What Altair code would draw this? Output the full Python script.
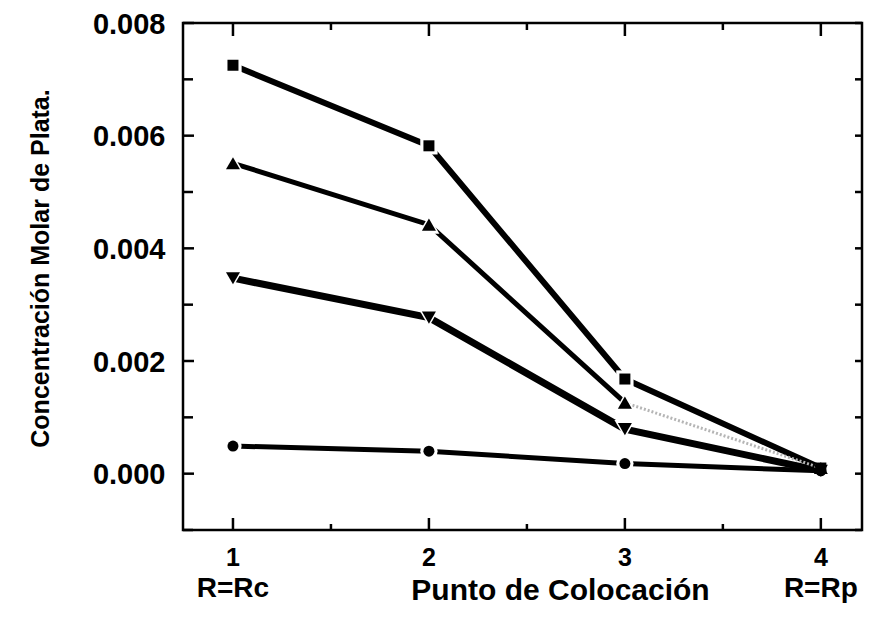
import altair as alt
import pandas as pd

# --- data ---
puntos = [1, 2, 3, 4]
serie_cuadrado = [0.00725, 0.00582, 0.00168, 0.00010]
serie_triangulo = [0.00551, 0.00442, 0.00126, 0.00010]
serie_triang_inv = [0.00347, 0.00277, 0.00079, 0.00005]
serie_circulo = [0.00049, 0.00040, 0.00018, 0.00005]

series_names = ["cuadrado", "triangulo", "triang_inv", "circulo"]
series_shapes = ["square", "triangle-up", "triangle-down", "circle"]
series_sizes = [121, 196, 196, 121]
halo_sizes = [300, 440, 440, 300]
series_widths = [6, 5, 7, 5]

x_ticks_major = [1, 2, 3, 4]
x_tick_labels = ["1", "2", "3", "4"]
x_ticks_minor = [1.5, 2.5, 3.5]
y_ticks_major = [0.000, 0.002, 0.004, 0.006, 0.008]
y_ticks_minor = [-0.001, 0.001, 0.003, 0.005, 0.007]
extremos = [1, 4]
extremos_txt = ["R=Rc", "R=Rp"]

x_title = "Punto de Colocación"
y_title = "Concentración Molar de Plata."

W, H = 679, 507
TOP = 15
FONT = "Liberation Sans"

rows = []
for name, shp, sz, hs, lw, vals in zip(series_names, series_shapes, series_sizes, halo_sizes, series_widths,
                                       [serie_cuadrado, serie_triangulo, serie_triang_inv, serie_circulo]):
    for x, y in zip(puntos, vals):
        rows.append({"serie": name, "x": x, "y": y, "shape": shp, "size": sz, "halo": hs, "lw": lw})
df = pd.DataFrame(rows)

df_black = df[~((df.serie == "triangulo") & (df.x == 4))]
df_gray = df[(df.serie == "triangulo") & (df.x >= 3)]

xs = alt.Scale(domain=[0.745, 4.21], nice=False, zero=False)
ys = alt.Scale(domain=[-0.001, 0.008], nice=False, zero=False)

x_axis = alt.Axis(values=x_ticks_major, domain=False, ticks=False, grid=False, labels=False,
                  title=x_title, titleFont=FONT, titleFontWeight="bold", titleFontSize=30,
                  titleColor="black", titleX=377, titleY=69, titleBaseline="alphabetic",
                  titleAlign="center")
y_axis = alt.Axis(values=y_ticks_major, format=".3f", domain=False, ticks=False, grid=False,
                  labelFont=FONT, labelFontWeight="bold", labelFontSize=29, labelColor="black",
                  labelPadding=18, labelBaseline="middle", labelOffset=1,
                  title=y_title, titleFont=FONT, titleFontWeight="bold", titleFontSize=25,
                  titleColor="black", titleX=-135, titleY=245, titleBaseline="alphabetic",
                  titleAngle=-90, titleAlign="center")

X = alt.X("x:Q", scale=xs, axis=x_axis, title=x_title)
Y = alt.Y("y:Q", scale=ys, axis=y_axis, title=y_title)

lines = alt.Chart(df_black).mark_line(color="black", strokeCap="butt").encode(
    x=X, y=Y,
    detail="serie:N",
    strokeWidth=alt.StrokeWidth("lw:Q", scale=None),
)

gray = alt.Chart(df_gray).mark_line(color="#b5b5b5", strokeWidth=3, strokeDash=[2, 2]).encode(
    x=X, y=Y,
)

halo = alt.Chart(df[df.x < 4]).mark_point(filled=True, color="white", opacity=1).encode(
    x=X, y=Y,
    shape=alt.Shape("shape:N", scale=None),
    size=alt.Size("halo:Q", scale=None),
)

pts = alt.Chart(df).mark_point(filled=True, color="black", opacity=1).encode(
    x=X, y=Y,
    shape=alt.Shape("shape:N", scale=None),
    size=alt.Size("size:Q", scale=None),
)

xmaj = pd.DataFrame({"x": x_ticks_major, "t": x_tick_labels})
xmin = pd.DataFrame({"x": x_ticks_minor})
ymaj = pd.DataFrame({"y": y_ticks_major})
ymin = pd.DataFrame({"y": y_ticks_minor})


def xrule(d, y0, y1):
    return alt.Chart(d).mark_rule(color="black", strokeWidth=2.5).encode(
        x=X, y=alt.value(y0), y2=alt.value(y1))


def yrule(d, x0, x1):
    return alt.Chart(d).mark_rule(color="black", strokeWidth=2.5).encode(
        y=Y, x=alt.value(x0), x2=alt.value(x1))


ticks = [
    xrule(xmaj, H, H - 12), xrule(xmin, H, H - 6),
    xrule(xmaj, 0, 13), xrule(xmin, 0, 7),
    yrule(ymaj, 0, 11), yrule(ymin, 0, 10),
    yrule(ymaj, W, W - 7), yrule(ymin, W, W - 7),
]

xlabels = alt.Chart(xmaj).mark_text(
    font=FONT, fontWeight="bold", fontSize=25, color="black", baseline="alphabetic", align="center"
).encode(x=X, y=alt.value(H + 36), text="t:N")

ext = alt.Chart(pd.DataFrame({"x": extremos, "t": extremos_txt})).mark_text(
    font=FONT, fontWeight="bold", fontSize=28, color="black", baseline="alphabetic", align="center"
).encode(x=X, y=alt.value(H + 67), text="t:N")

chart = alt.layer(lines, gray, halo, pts, *ticks, xlabels, ext).properties(
    width=W, height=H,
    autosize=alt.AutoSizeParams(type="none"),
    padding={"left": 175, "top": TOP, "right": 6, "bottom": 614 - TOP - H},
).configure(
    background="white",
    view=alt.ViewConfig(stroke="black", strokeWidth=2.5),
)

chart.save("out.html", embed_options={"renderer": "svg", "actions": False})
